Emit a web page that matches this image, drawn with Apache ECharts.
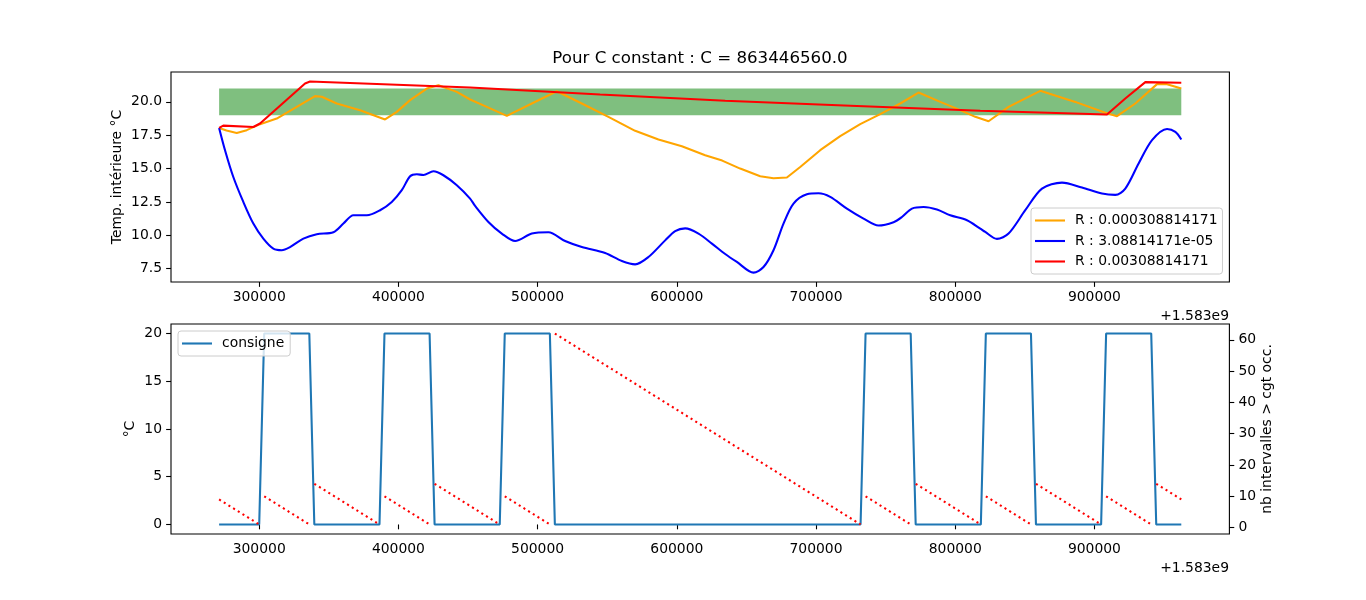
<!DOCTYPE html>
<html>
<head>
<meta charset="utf-8">
<script src="https://cdn.jsdelivr.net/npm/echarts@6/dist/echarts.min.js"></script>
<style>html,body{margin:0;padding:0;background:#fff}#c{width:1366px;height:600px}</style>
</head>
<body>
<div id="c"></div>
<script>
// x values are offsets from 1.583e9 (seconds)
const OFFSET_TEXT = '+1.583e9';
const TITLE = 'Pour C constant : C = 863446560.0';
const xTicks = [300000, 400000, 500000, 600000, 700000, 800000, 900000];
const topYTicks = [7.5, 10, 12.5, 15, 17.5, 20];
const bottomYTicks = [0, 5, 10, 15, 20];
const rightYTicks = [0, 10, 20, 30, 40, 50, 60];

const seriesNames = ['R : 0.000308814171', 'R : 3.08814171e-05', 'R : 0.00308814171'];

const bandX = [271200, 962400];
const bandY = [19, 21];

const orangeR = [[271200,18.05],[276500,17.85],[283850,17.67],[291040,17.88],[300600,18.33],[312600,18.75],[326970,19.63],[340120,20.43],[344930,20.38],[355710,19.88],[372460,19.38],[390420,18.68],[398830,19.25],[408400,20.13],[420400,21.0],[428730,21.25],[441960,20.75],[451500,20.18],[462280,19.68],[477870,18.95],[495840,19.88],[513800,20.8],[531770,19.88],[550880,18.88],[570070,17.83],[586810,17.18],[603630,16.68],[620370,16.0],[632590,15.6],[645520,15.0],[659900,14.43],[669450,14.28],[679080,14.33],[688640,15.12],[703010,16.38],[717380,17.43],[731760,18.33],[746130,19.08],[760500,19.88],[773650,20.7],[789250,20.0],[803620,19.38],[814400,18.88],[823960,18.55],[838320,19.63],[861100,20.83],[886250,20.0],[907810,19.18],[916220,18.93],[929370,19.88],[944960,21.33],[952160,21.33],[962400,21.0]];

const blueR = [[271200,18.05],[275445,16.38],[281410,14.37],[288600,12.5],[295780,10.88],[302970,9.75],[310150,9.0],[316190,8.88],[322150,9.12],[331720,9.75],[341350,10.08],[353280,10.23],[360470,10.88],[367660,11.5],[377280,11.5],[386830,11.88],[395240,12.5],[402430,13.38],[408400,14.43],[413210,14.58],[417960,14.52],[425140,14.8],[432330,14.5],[441960,13.75],[451500,12.75],[455100,12.2],[464650,11.0],[474280,10.13],[483840,9.57],[495840,10.13],[507770,10.23],[519770,9.57],[531770,9.12],[548510,8.67],[560510,8.07],[570070,7.82],[579630,8.37],[591630,9.62],[598820,10.32],[606010,10.52],[615570,10.13],[625200,9.38],[634760,8.6],[643150,8.0],[655080,7.2],[662270,7.62],[669450,8.88],[676640,10.88],[683830,12.38],[693460,13.08],[701790,13.15],[710200,12.88],[722200,12.0],[734130,11.25],[744910,10.73],[755690,10.98],[761720,11.37],[768910,12.0],[777240,12.12],[786870,11.93],[796430,11.5],[808430,11.13],[817990,10.5],[821570,10.25],[829980,9.73],[838320,10.13],[850320,11.88],[862320,13.5],[876690,13.95],[891060,13.58],[905440,13.13],[915000,13.03],[922190,13.5],[931750,15.38],[941380,17.13],[952160,17.97],[958120,17.75],[962400,17.18]];

const redR = [[271200,18.05],[274220,18.22],[295780,18.12],[300600,18.38],[332930,21.38],[336530,21.53],[451500,21.08],[544920,20.55],[634760,20.08],[724700,19.71],[817990,19.33],[909010,19.05],[922190,20.25],[936560,21.48],[962400,21.43]];

const consigne = [[271200,0],[300000,0],[303600,20],[336000,20],[339600,0],[386400,0],[390000,20],[422400,20],[426000,0],[472800,0],[476400,20],[508800,20],[512400,0],[732000,0],[735600,20],[768000,20],[771600,0],[818400,0],[822000,20],[854400,20],[858000,0],[904800,0],[908400,20],[940800,20],[944400,0],[962400,0]];

const countdownSegments = [
  [[271200,9],[300000,1]],
  [[303600,10],[336000,1]],
  [[339600,14],[386400,1]],
  [[390000,10],[422400,1]],
  [[426000,14],[472800,1]],
  [[476400,10],[508800,1]],
  [[512400,62],[732000,1]],
  [[735600,10],[768000,1]],
  [[771600,14],[818400,1]],
  [[822000,10],[854400,1]],
  [[858000,14],[904800,1]],
  [[908400,10],[940800,1]],
  [[944400,14],[962400,9]]
];

const FONT = 'DejaVu Sans';
const FS = 13.9;
const TICK = 4.86;

function xAxisCfg(gi) {
  return {
    type: 'value', gridIndex: gi, min: 236640, max: 996960,
    splitLine: {show: false},
    axisLine: {show: false},
    axisTick: {show: true, inside: false, length: TICK, customValues: xTicks, lineStyle: {color: '#000', width: 1.1}},
    axisLabel: {show: true, customValues: xTicks, margin: 8, color: '#000', fontFamily: FONT, fontSize: FS, formatter: v => String(v)}
  };
}
function yAxisCfg(gi, min, max, ticks, fmt, pos) {
  return {
    type: 'value', gridIndex: gi, min: min, max: max, position: pos,
    splitLine: {show: false},
    axisLine: {show: false},
    axisTick: {show: true, inside: false, length: TICK, customValues: ticks, lineStyle: {color: '#000', width: 1.1}},
    axisLabel: {show: true, customValues: ticks, margin: 9, color: '#000', fontFamily: FONT, fontSize: FS, formatter: fmt}
  };
}

const lineW = 2.08;
function lineSeries(name, data, color, xi, yi, extra) {
  return Object.assign({
    name: name, type: 'line', data: data, xAxisIndex: xi, yAxisIndex: yi,
    symbol: 'none', showSymbol: false, z: 3,
    lineStyle: {color: color, width: lineW}, itemStyle: {color: color}
  }, extra || {});
}

const series = [
  {
    type: 'line', xAxisIndex: 0, yAxisIndex: 0, data: [[bandX[0], bandY[0]]], symbol: 'none', z: 1,
    lineStyle: {opacity: 0}, silent: true,
    markArea: {silent: true, itemStyle: {color: 'rgba(0,128,0,0.5)'},
      data: [[{coord: [bandX[0], bandY[0]]}, {coord: [bandX[1], bandY[1]]}]]}
  },
  lineSeries(seriesNames[0], orangeR, '#ffa500', 0, 0),
  lineSeries(seriesNames[1], blueR, '#0000ff', 0, 0, {smooth: 0.3}),
  lineSeries(seriesNames[2], redR, '#ff0000', 0, 0),
  lineSeries('consigne', consigne, '#1f77b4', 1, 1)
];
countdownSegments.forEach(seg => {
  series.push({
    type: 'line', data: seg, xAxisIndex: 1, yAxisIndex: 2, symbol: 'none', z: 4,
    lineStyle: {color: '#ff0000', width: 2.08, type: [2.08, 3.44], cap: 'butt'}
  });
});

const legendBase = {
  orient: 'vertical', icon: 'rect', itemWidth: 30, itemHeight: 2.1, itemGap: 6.5,
  backgroundColor: 'rgba(255,255,255,0.8)', borderColor: '#cccccc', borderWidth: 1, borderRadius: 3,
  textStyle: {color: '#000', fontFamily: FONT, fontSize: FS, lineHeight: 14, padding: [0, 0, 0, 5]},
  selectedMode: false
};

const txt = (text, x, y, opts) => ({
  type: 'text', x: x, y: y, rotation: (opts && opts.rotation) || 0, silent: true,
  style: {text: text, x: 0, y: 0, fill: '#000', fontFamily: FONT, fontSize: (opts && opts.fontSize) || FS,
    align: (opts && opts.align) || 'center', verticalAlign: (opts && opts.va) || 'middle'}
});

const option = {
  animation: false,
  backgroundColor: '#fff',
  grid: [
    {left: 171, right: 136.6, top: 72, height: 210, show: true, borderColor: '#000', borderWidth: 1.1, backgroundColor: 'transparent'},
    {left: 171, right: 136.6, top: 324, height: 210, show: true, borderColor: '#000', borderWidth: 1.1, backgroundColor: 'transparent'}
  ],
  xAxis: [xAxisCfg(0), xAxisCfg(1)],
  yAxis: [
    yAxisCfg(0, 6.5, 22.24, topYTicks, v => v.toFixed(1), 'left'),
    yAxisCfg(1, -1, 21, bottomYTicks, v => String(v), 'left'),
    yAxisCfg(1, -2.05, 65.05, rightYTicks, v => String(v), 'right')
  ],
  legend: [
    Object.assign({}, legendBase, {data: seriesNames, left: 1031, top: 208, padding: [5.5, 5, 5.5, 4]}),
    Object.assign({}, legendBase, {data: ['consigne'], left: 178, top: 331, padding: [5.5, 6, 5.5, 4]})
  ],
  graphic: [
    txt(TITLE, 700, 58.5, {fontSize: 16.67}),
    txt('Temp. intérieure °C', 117.5, 177, {rotation: Math.PI / 2}),
    txt('°C', 130.5, 429, {rotation: Math.PI / 2}),
    txt('nb intervalles > cgt occ.', 1267, 429, {rotation: Math.PI / 2}),
    txt(OFFSET_TEXT, 1229, 316.5, {align: 'right'}),
    txt(OFFSET_TEXT, 1229, 568, {align: 'right'})
  ],
  series: series
};

const chart = echarts.init(document.getElementById('c'), null, {renderer: 'canvas'});
chart.setOption(option);
</script>
</body>
</html>
